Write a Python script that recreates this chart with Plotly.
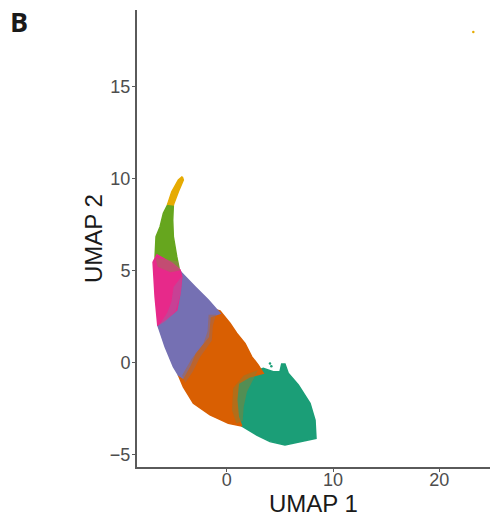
import plotly.graph_objects as go

# Cluster outlines, in UMAP coordinates
teal_x = [2.19,3.44,4.38,5.01,5.17,5.48,5.79,6.74,7.84,8.31,8.40,6.90,5.48,4.07,2.82,1.41,0.50,0.69]
teal_y = [-0.59,-0.32,-0.50,-0.50,-0.08,-0.08,-0.59,-1.22,-2.22,-3.13,-4.12,-4.30,-4.48,-4.30,-3.94,-3.45,-2.04,-1.11]
orange_x = [-1.73,-1.57,-0.63,0.31,0.94,1.72,2.35,2.97,3.44,2.19,1.09,0.94,1.09,1.41,0.15,-1.57,-3.14,-4.08,-4.55,-3.83,-2.51]
orange_y = [2.74,2.96,2.80,2.13,1.59,1.04,0.32,-0.14,-0.59,-0.77,-1.13,-2.04,-2.95,-3.45,-3.30,-2.85,-2.22,-1.32,-0.68,0.14,1.22]
purple_x = [-4.58,-4.23,-2.98,-1.73,-0.63,-1.57,-1.73,-2.98,-3.45,-4.11,-4.55,-5.02,-5.80,-6.49,-6.27,-5.33]
purple_y = [5.14,4.86,4.12,3.40,2.67,2.49,1.40,0.50,-0.14,-0.84,-0.68,-0.23,0.86,2.04,3.40,4.48]
lime_x = [-5.49,-5.02,-5.08,-5.02,-4.70,-4.49,-6.65,-6.74,-6.65,-6.27,-5.96]
lime_y = [8.65,8.56,7.74,6.84,5.75,5.14,5.30,5.75,6.84,7.38,8.11]
pink_x = [-6.93,-6.56,-5.80,-5.15,-4.39,-4.23,-4.39,-4.70,-5.80,-6.49,-6.74,-6.90]
pink_y = [5.46,5.85,5.60,5.40,5.03,4.66,3.78,2.85,2.31,2.04,3.58,4.86]
yellow_x = [-4.18,-4.08,-4.55,-5.02,-5.55,-5.17,-4.55]
yellow_y = [10.10,9.92,9.28,8.56,8.61,9.28,9.92]

# Zones where two clusters are mixed
mix_orange_teal_x = [2.94,1.9,1.6,1.5,0.9,0.5,0.6,1.6]
mix_orange_teal_y = [-0.41,-1.6,-2.4,-3.2,-3.3,-2.6,-1.4,-0.7]
mix_purple_orange_x = [-1.0,-1.3,-1.4,-2.5,-3.2,-3.9,-4.2,-3.3,-2.2,-1.8,-1.7]
mix_purple_orange_y = [2.6,2.0,1.2,0.3,-0.5,-1.1,-0.7,0.2,1.0,1.7,2.6]
mix_pink_lime_x = [-6.7,-4.6,-4.4,-5.3,-6.5]
mix_pink_lime_y = [5.7,5.5,5.0,4.9,5.2]
mix_pink_purple_x = [-4.2,-4.3,-4.8,-5.8,-6.4,-5.6,-5.2,-5.0]
mix_pink_purple_y = [4.7,3.8,2.8,2.2,2.0,2.7,3.3,4.1]

outlier_x = [23.2]
outlier_y = [17.96]
stray_x = [4.07,4.2]
stray_y = [-0.05,-0.2]

x_ticks = [0, 10, 20]
y_ticks = [-5, 0, 5, 10, 15]

clusters = [
    (teal_x, teal_y, "#1B9E77"),
    (orange_x, orange_y, "#D95F02"),
    (purple_x, purple_y, "#7570B3"),
    (lime_x, lime_y, "#66A61E"),
    (pink_x, pink_y, "#E7298A"),
    (yellow_x, yellow_y, "#E6AB02"),
]
mixes = [
    (mix_orange_teal_x, mix_orange_teal_y, "rgba(140,125,50,0.5)"),
    (mix_purple_orange_x, mix_purple_orange_y, "rgba(165,104,79,0.6)"),
    (mix_pink_lime_x, mix_pink_lime_y, "rgba(160,112,90,0.5)"),
    (mix_pink_purple_x, mix_pink_purple_y, "rgba(168,90,160,0.5)"),
]

fig = go.Figure()
for xs, ys, colour in clusters:
    fig.add_trace(go.Scatter(
        x=xs + xs[:1], y=ys + ys[:1], mode="lines", fill="toself",
        fillcolor=colour, line=dict(color=colour, width=1.5), hoverinfo="skip",
    ))
for xs, ys, colour in mixes:
    fig.add_trace(go.Scatter(
        x=xs + xs[:1], y=ys + ys[:1], mode="lines", fill="toself",
        fillcolor=colour, line=dict(width=0), hoverinfo="skip",
    ))
fig.add_trace(go.Scatter(
    x=outlier_x, y=outlier_y, mode="markers",
    marker=dict(color="#E6AB02", size=2.5), hoverinfo="skip",
))
fig.add_trace(go.Scatter(
    x=stray_x, y=stray_y, mode="markers",
    marker=dict(color="#1B9E77", size=2.5), hoverinfo="skip",
))

axis_style = dict(
    showgrid=False, zeroline=False, showline=True, linecolor="#5a5a5a", linewidth=2,
    ticks="outside", ticklen=3, tickcolor="#5a5a5a", tickwidth=1,
    tickfont=dict(family="Liberation Sans", size=18, color="#4d4d4d"),
)
title_font = dict(family="Liberation Sans", size=24, color="#1a1a1a")
fig.update_xaxes(range=[-8.44, 24.77], tickvals=x_ticks, ticklabelstandoff=-8, **axis_style,
                 title=dict(text="UMAP 1", standoff=8, font=title_font))
fig.update_yaxes(range=[-5.68, 19.16], tickvals=y_ticks, ticklabelstandoff=-2, **axis_style,
                 title=dict(text="UMAP 2", standoff=0, font=title_font))
fig.update_layout(
    width=493, height=517, autosize=False, showlegend=False,
    paper_bgcolor="white", plot_bgcolor="white",
    margin=dict(l=137, r=3, t=10, b=48),
    annotations=[dict(text="<b>B</b>", xref="paper", yref="paper", x=-0.334, y=0.975,
                      xanchor="center", yanchor="middle", showarrow=False,
                      font=dict(family="Open Sans", size=27, color="#1a1a1a"))],
)
fig.write_html("out.html", config={"displayModeBar": False},
               post_script="document.body.style.margin='0';")
